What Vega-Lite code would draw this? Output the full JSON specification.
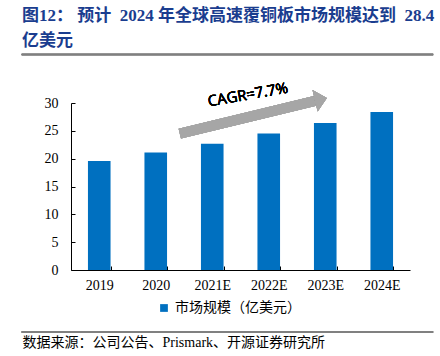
{
  "$schema": "https://vega.github.io/schema/vega-lite/v6.json",
  "width": 339,
  "height": 167,
  "autosize": {"type": "none"},
  "padding": {"left": 71, "top": 103, "right": 30, "bottom": 86},
  "background": "white",
  "config": {"view": {"stroke": null}},
  "title": {
    "text": ["图12：\u00a0预计\u00a0\u00a02024\u00a0年全球高速覆铜板市场规模达到\u00a0\u00a028.4", "亿美元"],
    "anchor": "start",
    "frame": "group",
    "dx": -49,
    "offset": 4,
    "font": "Liberation Serif, Noto Sans CJK SC",
    "fontSize": 17,
    "fontWeight": "bold",
    "color": "#1A3D8F",
    "lineHeight": 25
  },
  "data": {
    "values": [
      {"year": "2019", "value": 19.6, "series": "市场规模（亿美元）"},
      {"year": "2020", "value": 21.1, "series": "市场规模（亿美元）"},
      {"year": "2021E", "value": 22.7, "series": "市场规模（亿美元）"},
      {"year": "2022E", "value": 24.5, "series": "市场规模（亿美元）"},
      {"year": "2023E", "value": 26.4, "series": "市场规模（亿美元）"},
      {"year": "2024E", "value": 28.4, "series": "市场规模（亿美元）"}
    ]
  },
  "layer": [
    {
      "mark": {"type": "bar", "color": "#0070C0"},
      "encoding": {
        "x": {
          "field": "year",
          "type": "nominal",
          "sort": null,
          "scale": {"paddingInner": 0.6, "paddingOuter": 0.3},
          "axis": {
            "labelAngle": 0,
            "labelFont": "Liberation Serif",
            "labelFontSize": 14,
            "labelColor": "#000000",
            "labelPadding": 12,
            "tickSize": -4,
            "tickColor": "#000000",
            "tickBand": "extent",
            "domainColor": "#000000",
            "title": "数据来源：公司公告、Prismark、开源证券研究所",
            "titleFont": "Liberation Serif, Noto Sans CJK SC",
            "titleFontSize": 14,
            "titleFontWeight": "normal",
            "titleColor": "#000000",
            "titleAlign": "left",
            "titleBaseline": "middle",
            "titleX": -49,
            "titleY": 72
          }
        },
        "y": {
          "field": "value",
          "type": "quantitative",
          "scale": {"domain": [0, 30]},
          "axis": {"values": [0, 5, 10, 15, 20, 25, 30], "labelOverlap": false, "grid": false, "title": null, "labelFont": "Liberation Serif", "labelFontSize": 14, "labelColor": "#000000", "labelPadding": 17, "tickSize": -4, "tickColor": "#000000", "domainColor": "#000000"}
        },
        "color": {
          "field": "series",
          "type": "nominal",
          "scale": {"range": ["#0070C0"]},
          "legend": {
            "title": null,
            "orient": "none",
            "legendX": 86,
            "legendY": 198,
            "symbolType": "square",
            "symbolSize": 60,
            "labelFont": "Noto Sans CJK SC",
            "labelFontSize": 14,
            "labelColor": "#000000"
          }
        }
      }
    },
    {
      "mark": {"type": "rule", "color": "#A6A6A6", "strokeWidth": 10, "strokeCap": "butt"},
      "encoding": {
        "x": {"datum": 1.926, "type": "quantitative", "scale": {"domain": [0, 6]}, "axis": null},
        "y": {"datum": 24.48, "type": "quantitative", "axis": {"values": [0, 5, 10, 15, 20, 25, 30], "labelOverlap": false, "grid": false, "title": null, "labelFont": "Liberation Serif", "labelFontSize": 14, "labelColor": "#000000", "labelPadding": 17, "tickSize": -4, "tickColor": "#000000", "domainColor": "#000000"}},
        "x2": {"datum": 4.32},
        "y2": {"datum": 30.4}
      }
    },
    {
      "mark": {"type": "point", "filled": true, "color": "#A6A6A6", "opacity": 1, "shape": "M 1.1 0 L 0 -1 L 0 1 Z", "size": 484, "angle": -13.6},
      "encoding": {
        "x": {"datum": 4.32, "type": "quantitative", "scale": {"domain": [0, 6]}, "axis": null},
        "y": {"datum": 30.4, "type": "quantitative", "axis": {"values": [0, 5, 10, 15, 20, 25, 30], "labelOverlap": false, "grid": false, "title": null, "labelFont": "Liberation Serif", "labelFontSize": 14, "labelColor": "#000000", "labelPadding": 17, "tickSize": -4, "tickColor": "#000000", "domainColor": "#000000"}}
      }
    },
    {
      "mark": {"type": "text", "text": "CAGR=7.7%", "font": "Open Sans", "fontSize": 15, "angle": -10, "color": "#000000", "align": "center", "baseline": "middle"},
      "encoding": {
        "x": {"datum": 3.13, "type": "quantitative", "scale": {"domain": [0, 6]}, "axis": null},
        "y": {"datum": 31.5, "type": "quantitative", "axis": {"values": [0, 5, 10, 15, 20, 25, 30], "labelOverlap": false, "grid": false, "title": null, "labelFont": "Liberation Serif", "labelFontSize": 14, "labelColor": "#000000", "labelPadding": 17, "tickSize": -4, "tickColor": "#000000", "domainColor": "#000000"}}
      }
    },
    {
      "mark": {"type": "rule", "color": "#808080", "strokeWidth": 1.5},
      "encoding": {
        "x": {"datum": -0.873, "type": "quantitative", "scale": {"domain": [0, 6]}, "axis": null},
        "x2": {"datum": 6.41},
        "y": {"datum": 38.7, "type": "quantitative", "axis": {"values": [0, 5, 10, 15, 20, 25, 30], "labelOverlap": false, "grid": false, "title": null, "labelFont": "Liberation Serif", "labelFontSize": 14, "labelColor": "#000000", "labelPadding": 17, "tickSize": -4, "tickColor": "#000000", "domainColor": "#000000"}}
      }
    },
    {
      "mark": {"type": "rule", "color": "#808080", "strokeWidth": 1.5},
      "encoding": {
        "x": {"datum": -0.873, "type": "quantitative", "scale": {"domain": [0, 6]}, "axis": null},
        "x2": {"datum": 6.41},
        "y": {"datum": -11.16, "type": "quantitative", "axis": {"values": [0, 5, 10, 15, 20, 25, 30], "labelOverlap": false, "grid": false, "title": null, "labelFont": "Liberation Serif", "labelFontSize": 14, "labelColor": "#000000", "labelPadding": 17, "tickSize": -4, "tickColor": "#000000", "domainColor": "#000000"}}
      }
    }
  ],
  "resolve": {"scale": {"x": "independent"}}
}
